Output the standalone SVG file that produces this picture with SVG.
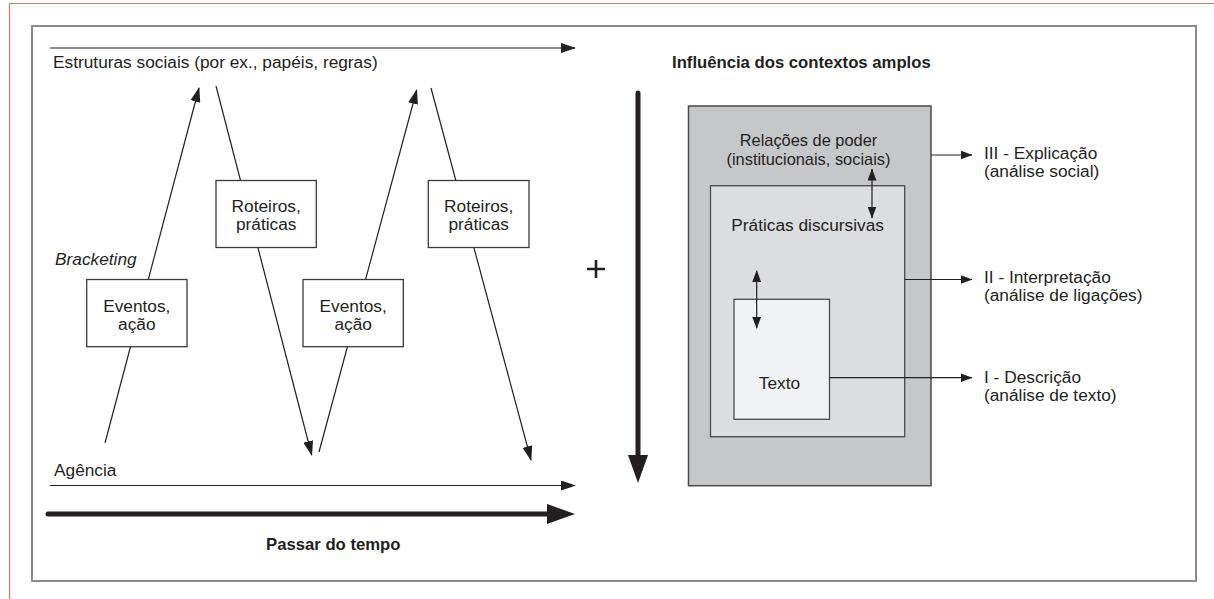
<svg xmlns="http://www.w3.org/2000/svg" width="1214" height="599" viewBox="0 0 1214 599">
<style>
  .t { font-family: "Liberation Sans", Arial, sans-serif; font-size: 17.3px; fill: #231f20; }
  .tc { text-anchor: middle; }
  .sm { font-size: 16.4px; }
  .b { font-weight: bold; font-size: 16.7px; }
  .i { font-style: italic; }
  .ln { stroke: #231f20; stroke-width: 1.2; fill: none; }
  .thick { stroke: #231f20; stroke-width: 5; fill: none; stroke-linecap: round; }
  .box { fill: #ffffff; stroke: #3a3a3a; stroke-width: 1.3; }
</style>
<defs>
  <marker id="ah" markerUnits="userSpaceOnUse" markerWidth="15" markerHeight="10" refX="14" refY="5" orient="auto">
    <path d="M0,0 L15,5 L0,10 z" fill="#231f20"/>
  </marker>
  <marker id="ahs" markerUnits="userSpaceOnUse" markerWidth="12" markerHeight="9" refX="11.5" refY="4.5" orient="auto-start-reverse">
    <path d="M0,0 L12,4.5 L0,9 z" fill="#231f20"/>
  </marker>
  <marker id="ahb" markerUnits="userSpaceOnUse" markerWidth="28" markerHeight="20" refX="18" refY="10" orient="auto">
    <path d="M0,0 L28,10 L0,20 z" fill="#231f20"/>
  </marker>
</defs>

<rect width="1214" height="599" fill="#ffffff"/>
<!-- page rules -->
<path d="M1214,3.5 L9.5,3.5 L9.5,599" fill="none" stroke="#c17e6a" stroke-width="1.2"/>
<!-- frame -->
<rect x="32" y="26" width="1164" height="555" fill="none" stroke="#8a8a8a" stroke-width="2"/>

<g id="connectors">
  <line class="ln" x1="50" y1="48" x2="575" y2="48" marker-end="url(#ah)"/>
  <line class="ln" x1="50" y1="485.5" x2="575" y2="485.5" marker-end="url(#ah)"/>
  <line class="thick" x1="48" y1="514" x2="565" y2="514" marker-end="url(#ahb)"/>
  <line class="thick" x1="638" y1="93" x2="638" y2="473" marker-end="url(#ahb)"/>
  <line class="ln" x1="105" y1="443" x2="199" y2="88" marker-end="url(#ah)"/>
  <line class="ln" x1="216" y1="86" x2="311.7" y2="455" marker-end="url(#ah)"/>
  <line class="ln" x1="319" y1="452" x2="416.7" y2="90" marker-end="url(#ah)"/>
  <line class="ln" x1="431" y1="88" x2="531" y2="460" marker-end="url(#ah)"/>
</g>

<g id="estruturas-label"><text class="t" x="53" y="68">Estruturas sociais (por ex., papéis, regras)</text></g>
<g id="agencia-label"><text class="t" x="54" y="476">Agência</text></g>
<g id="bracketing-label"><text class="t i" x="55" y="265">Bracketing</text></g>
<g id="tempo-label"><text class="t b" x="266" y="550">Passar do tempo</text></g>

<g id="eventos1">
  <rect class="box" x="86.7" y="279.5" width="100.3" height="67.2"/>
  <text class="t tc" x="136.8" y="311.5">Eventos,</text>
  <text class="t tc" x="136.8" y="330">ação</text>
</g>
<g id="roteiros1">
  <rect class="box" x="216" y="180.5" width="100.3" height="67"/>
  <text class="t tc" x="266.2" y="211.5">Roteiros,</text>
  <text class="t tc" x="266.2" y="230">práticas</text>
</g>
<g id="eventos2">
  <rect class="box" x="303" y="279.5" width="100.3" height="67.2"/>
  <text class="t tc" x="353.2" y="311.5">Eventos,</text>
  <text class="t tc" x="353.2" y="330">ação</text>
</g>
<g id="roteiros2">
  <rect class="box" x="428.3" y="180.5" width="100.7" height="67"/>
  <text class="t tc" x="478.7" y="211.5">Roteiros,</text>
  <text class="t tc" x="478.7" y="230">práticas</text>
</g>

<g id="plus">
  <path d="M587,269 H605 M596,260 V278" stroke="#231f20" stroke-width="2.6" fill="none"/>
</g>

<g id="influencia-label"><text class="t b" x="672" y="68">Influência dos contextos amplos</text></g>

<g id="relacoes">
  <rect x="688.5" y="106" width="242.5" height="379.7" fill="#c6c7c9" stroke="#4a4a4a" stroke-width="1.5"/>
  <text class="t tc sm" x="808.5" y="145.5">Relações de poder</text>
  <text class="t tc sm" x="808.5" y="164.5">(institucionais, sociais)</text>
</g>
<g id="praticas">
  <rect x="710.5" y="185.7" width="194.2" height="251" fill="#dcdddf" stroke="#4a4a4a" stroke-width="1.3"/>
  <text class="t tc" x="807.6" y="231">Práticas discursivas</text>
</g>
<g id="texto">
  <rect x="734" y="299.3" width="95.5" height="120" fill="#f1f2f4" stroke="#4a4a4a" stroke-width="1.3"/>
  <text class="t tc" x="779.5" y="388.5">Texto</text>
</g>

<g id="right-connectors">
  <line class="ln" x1="931" y1="155" x2="972" y2="155" marker-end="url(#ahs)"/>
  <line class="ln" x1="904.7" y1="279.5" x2="972" y2="279.5" marker-end="url(#ahs)"/>
  <line class="ln" x1="829.5" y1="377.7" x2="972" y2="377.7" marker-end="url(#ahs)"/>
  <line class="ln" x1="872" y1="169" x2="872" y2="218" marker-start="url(#ahs)" marker-end="url(#ahs)"/>
  <line class="ln" x1="756.7" y1="270.7" x2="756.7" y2="328.3" marker-start="url(#ahs)" marker-end="url(#ahs)"/>
</g>

<g id="explicacao">
  <text class="t" x="984" y="159">III - Explicação</text>
  <text class="t" x="984" y="177">(análise social)</text>
</g>
<g id="interpretacao">
  <text class="t" x="984" y="282.5">II - Interpretação</text>
  <text class="t" x="984" y="300.5">(análise de ligações)</text>
</g>
<g id="descricao">
  <text class="t" x="984" y="383">I - Descrição</text>
  <text class="t" x="984" y="401">(análise de texto)</text>
</g>
</svg>
